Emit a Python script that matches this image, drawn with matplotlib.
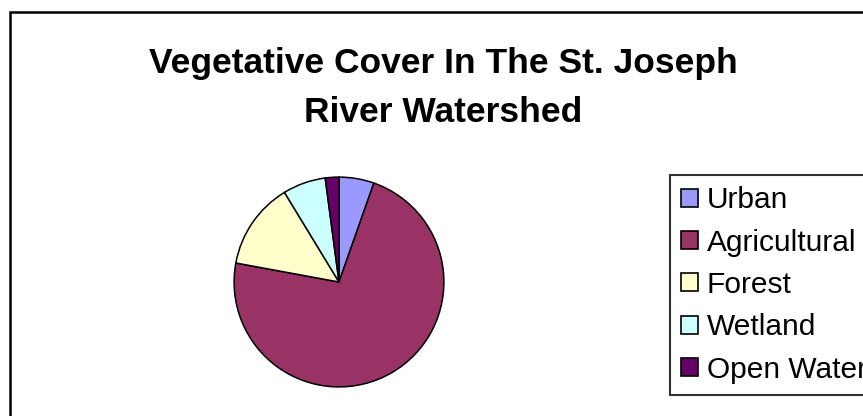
import matplotlib
matplotlib.use('Agg')
import matplotlib.pyplot as plt
from matplotlib.patches import Rectangle

# Data (percent of watershed)
categorias = ['Urban', 'Agricultural', 'Forest', 'Wetland', 'Open Water']
valores = [5.4, 72.5, 13.4, 6.6, 2.1]
cores = ['#9999FF', '#993366', '#FFFFCC', '#CCFFFF', '#660066']
titulo = 'Vegetative Cover In The St. Joseph\nRiver Watershed'

W, H = 863, 416
plt.rcParams['font.family'] = ['Liberation Sans', 'DejaVu Sans']

fig = plt.figure(figsize=(W / 100, H / 100), dpi=100)

# Moldura do gráfico (cortada à direita e em baixo, como na imagem)
fig.patches.append(Rectangle((10 / W, -0.2), 1.2, (H - 12) / H + 0.2,
                             transform=fig.transFigure, fill=False,
                             edgecolor='black', linewidth=1.8, clip_on=False))

fig.text(443 / W, 1 - 47 / H, titulo, ha='center', va='top',
         fontsize=25.5, fontweight='bold', linespacing=1.62)

# Pizza
cx, cy, r = 339, 282, 107
ax = fig.add_axes([(cx - r) / W, (H - cy - r) / H, 2 * r / W, 2 * r / H])
wedges, _ = ax.pie(valores, colors=cores, startangle=90, counterclock=False,
                   wedgeprops=dict(edgecolor='black', linewidth=1.1))
ax.set_xlim(-1.02, 1.02)
ax.set_ylim(-1.02, 1.02)
ax.set_aspect('equal')
ax.axis('off')

leg = fig.legend(wedges, categorias, loc='upper left',
                 bbox_to_anchor=(670 / W, 1 - 175 / H),
                 fontsize=21.5, frameon=True, fancybox=False,
                 edgecolor='black', handlelength=0.55, handleheight=0.55,
                 handletextpad=0.3, labelspacing=0.48, borderpad=0.38,
                 borderaxespad=0)
leg.get_frame().set_linewidth(1.5)
for h in leg.legend_handles:
    h.set_edgecolor('black')
    h.set_linewidth(1.2)

fig.savefig('out.png', dpi=100, facecolor='white')
